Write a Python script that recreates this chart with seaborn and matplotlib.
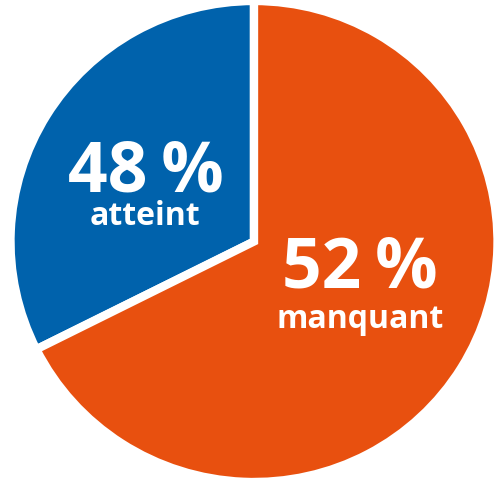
import matplotlib
matplotlib.use("Agg")
import matplotlib.pyplot as plt
import seaborn as sns

categories = ["atteint", "manquant"]
shares = [32.4, 67.6]
pct_labels = ["48\u2009%", "52\u2009%"]
colors = ["#0062AC", "#E8500F"]

sns.set_style("white")
plt.rcParams["font.family"] = ["Open Sans", "DejaVu Sans"]

W, H = 503, 481
RX, RY = 243.5, 240.5
cx, cy = 254, 242.5  # pixel center (from top-left)
fig = plt.figure(figsize=(W / 100, H / 100), dpi=100)
ax = fig.add_axes([0, 0, 1, 1])
ax.pie(shares, colors=colors, startangle=90, counterclock=True, radius=1,
       wedgeprops=dict(edgecolor="white", linewidth=6))
ax.set_aspect("auto")
ax.set_xlim(-cx / RX, (W - cx) / RX)
ax.set_ylim(-(H - cy) / RY, cy / RY)
ax.axis("off")

def px(x, y):
    return (x - cx) / RX, (cy - y) / RY

pos_pct = [(146, 192), (360, 288)]
pos_cat = [(145, 225), (360, 328)]
for i in range(2):
    ax.text(*px(*pos_pct[i]), pct_labels[i], color="white", fontsize=50,
            fontweight="bold", ha="center", va="baseline")
    ax.text(*px(*pos_cat[i]), categories[i], color="white", fontsize=23,
            fontweight="bold", ha="center", va="baseline")

fig.savefig("out.png", dpi=100)
